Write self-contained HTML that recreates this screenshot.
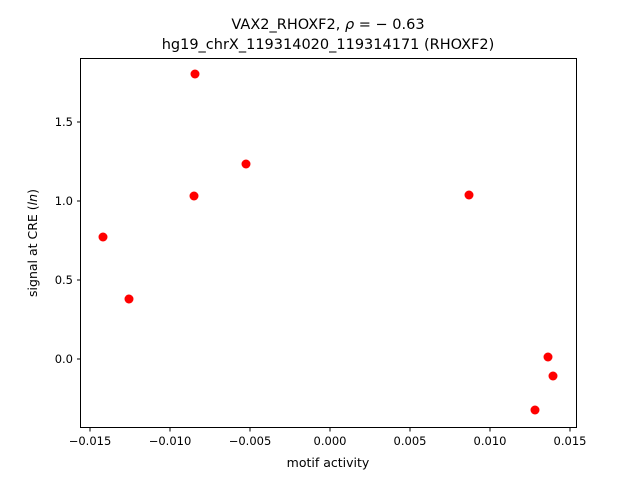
<!DOCTYPE html>
<html><head><meta charset="utf-8"><style>body{margin:0;background:#fff}svg{display:block}text{font-family:"DejaVu Sans","Liberation Sans",sans-serif;fill:#000}</style></head><body>
<svg width="640" height="480" xmlns="http://www.w3.org/2000/svg">
<rect width="640" height="480" fill="#fff"/>
<text x="328" y="29" font-size="14.5" text-anchor="middle">VAX2_RHOXF2, <tspan font-style="italic">ρ</tspan> = − 0.63</text>
<text x="328" y="49" font-size="14.5" text-anchor="middle">hg19_chrX_119314020_119314171 (RHOXF2)</text>
<g fill="#f00">
<circle cx="195" cy="74" r="4.5"/><circle cx="246" cy="164" r="4.5"/><circle cx="194" cy="196" r="4.5"/>
<circle cx="469" cy="195" r="4.5"/><circle cx="103" cy="237" r="4.5"/><circle cx="129" cy="299" r="4.5"/>
<circle cx="548" cy="357" r="4.5"/><circle cx="553" cy="376" r="4.5"/><circle cx="535" cy="410" r="4.5"/>
</g>
<rect x="80.5" y="58.5" width="496" height="369" fill="none" stroke="#000" stroke-width="1"/>
<g stroke="#000" stroke-width="1">
<line x1="90" y1="428" x2="90" y2="431.5"/><line x1="170" y1="428" x2="170" y2="431.5"/><line x1="250" y1="428" x2="250" y2="431.5"/><line x1="330" y1="428" x2="330" y2="431.5"/><line x1="410" y1="428" x2="410" y2="431.5"/><line x1="490" y1="428" x2="490" y2="431.5"/><line x1="570" y1="428" x2="570" y2="431.5"/>
<line x1="77" y1="122" x2="80" y2="122"/><line x1="77" y1="201" x2="80" y2="201"/><line x1="77" y1="280" x2="80" y2="280"/><line x1="77" y1="359" x2="80" y2="359"/>
</g>
<g font-size="11.5" text-anchor="middle">
<text x="90" y="445">−0.015</text><text x="170" y="445">−0.010</text><text x="250" y="445">−0.005</text><text x="330" y="445">0.000</text><text x="410" y="445">0.005</text><text x="490" y="445">0.010</text><text x="570" y="445">0.015</text>
</g>
<g font-size="11.5" text-anchor="end">
<text x="73" y="126">1.5</text><text x="73" y="205">1.0</text><text x="73" y="284">0.5</text><text x="73" y="363">0.0</text>
</g>
<text x="328" y="467" font-size="12.5" text-anchor="middle">motif activity</text>
<text transform="translate(37,243) rotate(-90)" font-size="12.5" text-anchor="middle">signal at CRE (<tspan font-style="italic">ln</tspan>)</text>
</svg>
</body></html>
